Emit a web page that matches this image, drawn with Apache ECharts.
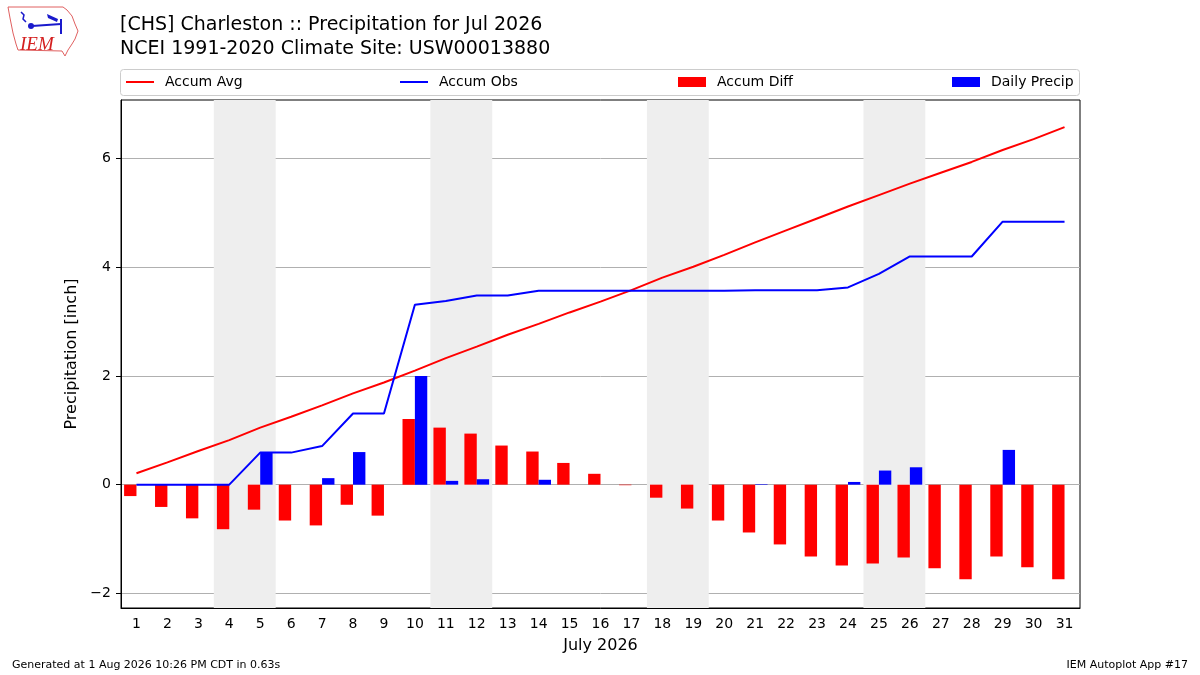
<!DOCTYPE html>
<html>
<head>
<meta charset="utf-8">
<script src="https://cdn.jsdelivr.net/npm/echarts@6/dist/echarts.min.js"></script>
<style>
    html, body { margin: 0; padding: 0; background: #fff; }
    #chart { width: 1200px; height: 675px; }
</style>
</head>
<body>
<div id="chart"></div>
<script>
/*---------------------------------------- data ----------------------------------------*/
var days = ['1', '2', '3', '4', '5', '6', '7', '8', '9', '10', '11', '12', '13', '14', '15', '16',
    '17', '18', '19', '20', '21', '22', '23', '24', '25', '26', '27', '28', '29', '30', '31'];
var accumAvg = [0.21, 0.41, 0.62, 0.82, 1.05, 1.25, 1.46, 1.68, 1.88, 2.10, 2.33, 2.54, 2.76, 2.96, 3.17, 3.37,
    3.58, 3.81, 4.01, 4.23, 4.46, 4.68, 4.90, 5.12, 5.33, 5.54, 5.74, 5.94, 6.16, 6.36, 6.58];
var accumObs = [0, 0, 0, 0, 0.59, 0.59, 0.71, 1.31, 1.31, 3.31, 3.38, 3.48, 3.48, 3.57, 3.57, 3.57,
    3.57, 3.57, 3.57, 3.57, 3.58, 3.58, 3.58, 3.63, 3.88, 4.20, 4.20, 4.20, 4.84, 4.84, 4.84];
var accumDiff = [-0.21, -0.41, -0.62, -0.82, -0.46, -0.66, -0.75, -0.37, -0.57, 1.21, 1.05, 0.94, 0.72, 0.61, 0.40, 0.20,
    -0.01, -0.24, -0.44, -0.66, -0.88, -1.10, -1.32, -1.49, -1.45, -1.34, -1.54, -1.74, -1.32, -1.52, -1.74];
var dailyPrecip = [0, 0, 0, 0, 0.59, 0, 0.12, 0.60, 0, 2.00, 0.07, 0.10, 0, 0.09, 0, 0,
    0, 0, 0, 0, 0.01, 0, 0, 0.05, 0.26, 0.32, 0, 0, 0.64, 0, 0];
var saturdays = [4, 11, 18, 25];
var yTicks = [-2, 0, 2, 4, 6];

var font = 'DejaVu Sans';
var chart = echarts.init(document.getElementById('chart'));

/* 小图例 */
function legendItem(name, left, icon, h) {
    return {
        data: [{name: name, icon: icon}],
        left: left,
        top: 82 - 7,
        itemWidth: 28,
        itemHeight: h,
        height: 14,
        padding: 0,
        selectedMode: false,
        textStyle: {fontFamily: font, fontSize: 14, color: '#000', padding: [0, 0, 0, 6]}
    };
}

/* 爱荷华州轮廓 logo */
var iowa = [[8, 7], [63, 7], [67, 10], [72, 16], [75, 24], [78, 31], [75, 39], [72, 44], [68, 50],
    [65, 56], [62, 51], [18, 50], [16, 44], [13, 33], [10, 18]];

var option = {
    backgroundColor: '#fff',
    animation: false,
    textStyle: {fontFamily: font},
    grid: {
        left: 121,
        right: 120,
        top: 100,
        bottom: 67,
        show: true,
        borderColor: '#000',
        borderWidth: 1,
        backgroundColor: 'transparent',
        containLabel: false
    },
    legend: [
        legendItem('Accum Avg', 126, 'rect', 2),
        legendItem('Accum Obs', 400, 'rect', 2),
        legendItem('Accum Diff', 678, 'rect', 10),
        legendItem('Daily Precip', 952, 'rect', 10)
    ],
    xAxis: [
        {
            type: 'category',
            data: days,
            boundaryGap: true,
            name: 'July 2026',
            nameLocation: 'middle',
            nameGap: 30,
            nameTextStyle: {fontSize: 16, color: '#000'},
            axisLine: {onZero: false, lineStyle: {color: '#000'}},
            axisTick: {alignWithLabel: true, length: 5, lineStyle: {color: '#000'}},
            axisLabel: {fontSize: 14, color: '#000', margin: 9, interval: 0},
            splitLine: {show: false}
        },
        {
            type: 'value',
            min: 0.5,
            max: 31.5,
            show: false
        }
    ],
    yAxis: {
        type: 'value',
        min: -2.27,
        max: 7.08,
        name: 'Precipitation [inch]',
        nameLocation: 'middle',
        nameGap: 37,
        nameTextStyle: {fontSize: 16, color: '#000'},
        axisLine: {show: true, onZero: false, lineStyle: {color: '#000'}},
        axisTick: {show: true, length: 5, customValues: yTicks, lineStyle: {color: '#000'}},
        axisLabel: {
            fontSize: 14,
            color: '#000',
            margin: 10,
            customValues: yTicks,
            formatter: function (v) {
                return String(v).replace('-', '\u2212');
            }
        },
        splitLine: {show: true, lineStyle: {color: '#b0b0b0', width: 1}}
    },
    series: [
        {
            name: 'weekend',
            type: 'custom',
            xAxisIndex: 1,
            z: 0,
            silent: true,
            data: saturdays,
            renderItem: function (params, api) {
                var start = api.value(0);
                var x0 = api.coord([start - 0.5, 0])[0];
                var x1 = api.coord([start + 1.5, 0])[0];
                var cs = params.coordSys;
                return {
                    type: 'rect',
                    shape: {x: x0, y: cs.y, width: x1 - x0, height: cs.height},
                    style: {fill: '#eeeeee'}
                };
            }
        },
        {
            name: 'Accum Diff',
            type: 'bar',
            data: accumDiff,
            barWidth: '40%',
            barGap: '0%',
            itemStyle: {color: '#ff0000'},
            z: 2
        },
        {
            name: 'Daily Precip',
            type: 'bar',
            data: dailyPrecip,
            barWidth: '40%',
            barGap: '0%',
            itemStyle: {color: '#0000ff'},
            z: 2
        },
        {
            name: 'Accum Avg',
            type: 'line',
            data: accumAvg,
            symbol: 'none',
            itemStyle: {color: '#ff0000'},
            lineStyle: {color: '#ff0000', width: 2},
            z: 3
        },
        {
            name: 'Accum Obs',
            type: 'line',
            data: accumObs,
            symbol: 'none',
            itemStyle: {color: '#0000ff'},
            lineStyle: {color: '#0000ff', width: 2},
            z: 3
        }
    ],
    graphic: [
        {
            type: 'rect',
            z: -1,
            shape: {x: 120.5, y: 69.5, width: 959, height: 26, r: 3},
            style: {fill: '#fff', stroke: '#cccccc', lineWidth: 1}
        },
        {
            type: 'text',
            left: 120,
            top: 13,
            style: {
                text: '[CHS] Charleston :: Precipitation for Jul 2026\nNCEI 1991-2020 Climate Site: USW00013880',
                font: '19px "DejaVu Sans"',
                lineHeight: 24,
                fill: '#000'
            }
        },
        {
            type: 'text',
            left: 12,
            top: 660,
            style: {text: 'Generated at 1 Aug 2026 10:26 PM CDT in 0.63s', font: '11px "DejaVu Sans"', fill: '#000'}
        },
        {
            type: 'text',
            right: 12,
            top: 660,
            style: {text: 'IEM Autoplot App #17', font: '11px "DejaVu Sans"', fill: '#000'}
        },
        {
            type: 'polygon',
            shape: {points: iowa},
            style: {fill: '#fff', stroke: '#e06060', lineWidth: 1}
        },
        {
            type: 'text',
            x: 20,
            y: 35,
            style: {text: 'IEM', font: 'italic 19px "Liberation Serif"', fill: '#d42020'}
        },
        {
            type: 'polyline',
            shape: {points: [[32, 26], [61, 24]]},
            style: {stroke: '#1a1acc', lineWidth: 2}
        },
        {
            type: 'polyline',
            shape: {points: [[61, 19], [61, 34]]},
            style: {stroke: '#1a1acc', lineWidth: 2}
        },
        {
            type: 'polygon',
            shape: {points: [[47, 14], [58, 19], [57, 22], [48, 18]]},
            style: {fill: '#1a1acc'}
        },
        {
            type: 'polyline',
            shape: {points: [[21, 12], [24, 15], [23, 19], [26, 22]]},
            style: {stroke: '#1a1acc', lineWidth: 1.5}
        },
        {
            type: 'circle',
            shape: {cx: 31, cy: 26, r: 3},
            style: {fill: '#1a1acc'}
        }
    ]
};

chart.setOption(option);
</script>
</body>
</html>
